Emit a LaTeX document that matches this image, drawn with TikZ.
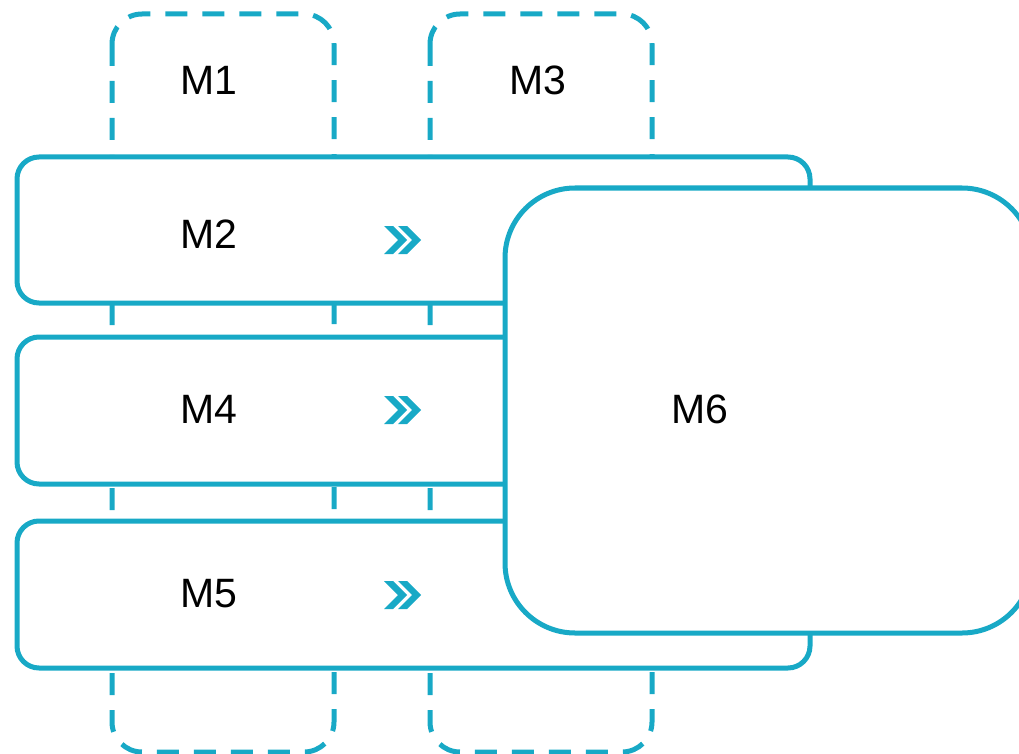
\documentclass[tikz,border=0pt]{standalone}
\usepackage{fontspec}
\setmainfont{Liberation Sans}
\definecolor{teal1}{RGB}{24,169,198}
\begin{document}
\begin{tikzpicture}[x=1pt,y=-1pt,
  dashbox/.style={draw=teal1, line width=5pt, dash pattern=on 22pt off 15pt, rounded corners=30pt},
  solidbox/.style={draw=teal1, fill=white, line width=5pt, rounded corners=22pt},
  bigbox/.style={draw=teal1, fill=white, line width=5pt, rounded corners=70pt},
  lbl/.style={font=\fontsize{41}{47}\selectfont, text=black, inner sep=0pt},
  chev/.style={fill=teal1, draw=none}]
\clip (0,0) rectangle (1019,754);
% dashed columns
\draw[dashbox] (112,14) rectangle (334,752);
\draw[dashbox] (430,14) rectangle (652,752);
\node[lbl] (m1) at (209,80) {M1};
\node[lbl] (m3) at (538,80) {M3};
% solid rows
\draw[solidbox] (17,157) rectangle (810,303);
\draw[solidbox] (17,337) rectangle (810,484);
\draw[solidbox] (17,521) rectangle (810,668);
\node[lbl] (m2) at (209,234) {M2};
\node[lbl] (m4) at (209,409) {M4};
\node[lbl] (m5) at (209,594) {M5};
% chevrons
\foreach \yy in {240,410,595}{
  \foreach \dx in {0,14}{
    \fill[chev] (384+\dx,\yy-14) -- (393+\dx,\yy-14) -- (407+\dx,\yy) -- (393+\dx,\yy+14) -- (384+\dx,\yy+14) -- (398+\dx,\yy) -- cycle;
  }
}
% big box
\draw[bigbox] (505,188) rectangle (1032,633);
\node[lbl] (m6) at (700,409) {M6};
\end{tikzpicture}
\end{document}
